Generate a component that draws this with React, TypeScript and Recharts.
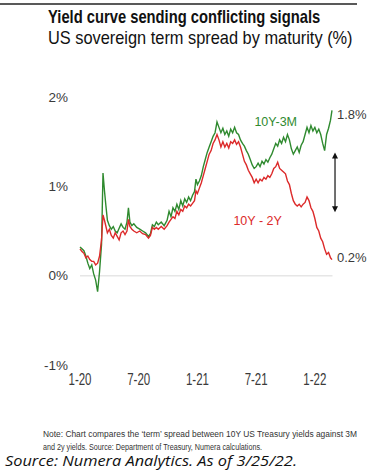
import React from 'react';
import { LineChart, Line, XAxis, YAxis, ReferenceLine, ReferenceDot } from 'recharts';

// months since Jan 2020
const months = [
  0, 0.2, 0.4, 0.6, 0.8, 1.0, 1.2, 1.4, 1.6, 1.8, 2.0, 2.2, 2.35, 2.5, 2.65, 2.8,
  3.0, 3.2, 3.4, 3.6, 3.8, 4.0, 4.2, 4.4, 4.6, 4.8, 4.95, 5.1, 5.3, 5.5, 5.8,
  6.1, 6.4, 6.7, 7.0, 7.2, 7.4, 7.6, 7.8, 8.0, 8.3, 8.6, 8.9, 9.1, 9.3, 9.5,
  9.7, 9.9, 10.1, 10.3, 10.5, 10.7, 10.9, 11.1, 11.3, 11.5, 11.7, 11.85, 12.0,
  12.2, 12.4, 12.6, 12.8, 13.0, 13.2, 13.4, 13.6, 13.8, 14.0, 14.2, 14.4, 14.6,
  14.8, 15.0, 15.2, 15.4, 15.6, 15.8, 16.0, 16.2, 16.4, 16.6, 16.8, 17.0, 17.2,
  17.4, 17.6, 17.8, 18.0, 18.2, 18.4, 18.6, 18.8, 19.0, 19.2, 19.4, 19.6, 19.8,
  20.0, 20.2, 20.4, 20.6, 20.8, 21.0, 21.2, 21.4, 21.6, 21.8, 22.0, 22.2, 22.4,
  22.6, 22.8, 23.0, 23.2, 23.4, 23.6, 23.8, 24.0, 24.2, 24.4, 24.6, 24.8, 25.0,
  25.2, 25.4, 25.6, 25.75,
];

const spread10y3m = [
  0.32, 0.30, 0.28, 0.22, 0.14, 0.08, 0.12, 0.02, -0.05, -0.18, 0.05, 0.35, 1.15, 0.95, 0.78, 0.62,
  0.56, 0.52, 0.55, 0.50, 0.48, 0.53, 0.58, 0.54, 0.52, 0.60, 0.76, 0.60, 0.56, 0.58, 0.54,
  0.52, 0.50, 0.48, 0.44, 0.47, 0.57, 0.55, 0.60, 0.57, 0.60, 0.56, 0.62, 0.72, 0.66, 0.76,
  0.72, 0.80, 0.74, 0.84, 0.78, 0.86, 0.82, 0.88, 0.84, 0.90, 0.94, 1.08, 1.02,
  1.06, 1.12, 1.22, 1.30, 1.38, 1.44, 1.50, 1.56, 1.60, 1.72, 1.66, 1.60, 1.65,
  1.58, 1.62, 1.56, 1.64, 1.60, 1.66, 1.60, 1.58, 1.52, 1.48, 1.45, 1.40, 1.36,
  1.30, 1.24, 1.20, 1.22, 1.26, 1.22, 1.28, 1.25, 1.30, 1.27, 1.32, 1.36, 1.42,
  1.48, 1.45, 1.52, 1.48, 1.55, 1.50, 1.58, 1.52, 1.42, 1.36, 1.40, 1.44, 1.38,
  1.46, 1.50, 1.58, 1.66, 1.60, 1.68, 1.62, 1.66, 1.60, 1.64, 1.58, 1.48, 1.40,
  1.58, 1.65, 1.74, 1.85,
];

const spread10y2y = [
  0.30, 0.27, 0.25, 0.20, 0.22, 0.18, 0.16, 0.16, 0.12, 0.14, 0.22, 0.40, 0.68, 0.62, 0.55, 0.48,
  0.52, 0.45, 0.42, 0.48, 0.44, 0.40, 0.48, 0.50, 0.46, 0.50, 0.63, 0.55, 0.52, 0.50, 0.48,
  0.50, 0.47, 0.46, 0.42, 0.45, 0.54, 0.52, 0.54, 0.52, 0.55, 0.52, 0.56, 0.60, 0.63, 0.66,
  0.64, 0.72, 0.68, 0.74, 0.72, 0.78, 0.76, 0.80, 0.78, 0.81, 0.84, 0.95, 0.92,
  0.98, 1.04, 1.12, 1.20, 1.28, 1.36, 1.40, 1.48, 1.52, 1.58, 1.52, 1.44, 1.50,
  1.44, 1.48, 1.43, 1.50, 1.48, 1.52, 1.47, 1.50, 1.44, 1.36, 1.28, 1.24, 1.18,
  1.14, 1.10, 1.04, 1.08, 1.04, 1.08, 1.06, 1.10, 1.08, 1.12, 1.10, 1.14, 1.20,
  1.22, 1.27, 1.20, 1.18, 1.16, 1.14, 1.06, 1.02, 0.92, 0.84, 0.80, 0.78, 0.80,
  0.77, 0.80, 0.82, 0.88, 0.84, 0.76, 0.72, 0.64, 0.54, 0.50, 0.42, 0.38, 0.30,
  0.24, 0.26, 0.20, 0.18,
];

const xTicks = [0, 6, 12, 18, 24];
const xTickLabels = ['1-20', '7-20', '1-21', '7-21', '1-22'];
const yTicks = [-1, 0, 1, 2];
const yTickLabels = ['-1%', '0%', '1%', '2%'];

const endLabel3m = '1.8%';
const endLabel2y = '0.2%';
const endValue3m = 1.8;
const endValue2y = 0.2;
const lastMonth = 25.75;
const seriesLabel3m = { t: 20.0, v: 1.72, text: '10Y-3M' };
const seriesLabel2y = { t: 18.15, v: 0.62, text: '10Y - 2Y' };
const arrowSpan = { t: 26.06, from: 1.38, to: 0.71 };
const zeroLineEnd = 25.8;

const data = months.map((t, i) => ({ t, g: spread10y3m[i], r: spread10y2y[i] }));

const FONT = '"Liberation Sans", Arial, sans-serif';
const GREEN = '#2f8a2f';
const RED = '#dc2a2a';
const TICK = '#3a3a3a';

const XTick = (props: any) => {
  const { x, y, payload } = props;
  const idx = xTicks.indexOf(payload.value);
  return (
    <text x={x} y={y} dy={12} textAnchor="middle" fontSize={16} fill={TICK} fontFamily={FONT}
      textLength={23} lengthAdjust="spacingAndGlyphs">
      {xTickLabels[idx]}
    </text>
  );
};

const YTick = (props: any) => {
  const { x, y, payload } = props;
  const idx = yTicks.indexOf(payload.value);
  return (
    <text x={x} y={y} dy={4.8} textAnchor="end" fontSize={13.5} fill={TICK} fontFamily={FONT}>
      {yTickLabels[idx]}
    </text>
  );
};

const ArrowShape = (p: any) => {
  const { x1, y1, x2, y2 } = p;
  const top = Math.min(y1, y2);
  const bot = Math.max(y1, y2);
  return (
    <g>
      <line x1={x1} y1={top + 4} x2={x2} y2={bot - 4} stroke="#111" strokeWidth={1.2} />
      <polygon points={`${x1},${top} ${x1 - 3},${top + 6} ${x1 + 3},${top + 6}`} fill="#111" />
      <polygon points={`${x1},${bot} ${x1 - 3},${bot - 6} ${x1 + 3},${bot - 6}`} fill="#111" />
    </g>
  );
};

const Squeezed = ({ x, y, sx, children, ...rest }: any) => (
  <text transform={`translate(${x},${y}) scale(${sx},1)`} x={0} y={0} {...rest}>
    {children}
  </text>
);

export default function App() {
  return (
    <div style={{ position: 'absolute', left: 0, top: 0, width: 367, height: 475, background: '#fff' }}>
      <svg width={367} height={475} style={{ position: 'absolute', left: 0, top: 0 }}>
        <line x1={0} y1={4} x2={357} y2={4} stroke="#222" strokeWidth={1.4} />
        <Squeezed x={48} y={23} sx={0.82} fontSize={18} fontWeight="bold" fill="#111" fontFamily={FONT}>
          Yield curve sending conflicting signals
        </Squeezed>
        <Squeezed x={48} y={44} sx={0.91} fontSize={18} fill="#111" fontFamily={FONT}>
          US sovereign term spread by maturity (%)
        </Squeezed>
        <text x={43} y={437} fontSize={8.5} fill="#333" fontFamily={FONT}
          textLength={314} lengthAdjust="spacingAndGlyphs">
          Note: Chart compares the ‘term’ spread between 10Y US Treasury yields against 3M
        </text>
        <text x={43} y={449.5} fontSize={8.5} fill="#333" fontFamily={FONT}
          textLength={219} lengthAdjust="spacingAndGlyphs">
          and 2y yields. Source: Department of Treasury, Numera calculations.
        </text>
        <text x={5} y={466} fontSize={14} fontStyle="italic" fill="#111" fontFamily={'"Open Sans", "Noto Sans", sans-serif'}
          textLength={292} lengthAdjust="spacingAndGlyphs">
          Source: Numera Analytics. As of 3/25/22.
        </text>
      </svg>
      <div style={{ position: 'absolute', left: 0, top: 0 }}>
        <LineChart width={367} height={400} data={data}
          margin={{ top: 97, right: 13, left: 30, bottom: 5 }}>
          <XAxis dataKey="t" type="number" domain={[0, 28]} ticks={xTicks} interval={0}
            axisLine={false} tickLine={false} tickSize={0} tickMargin={8} height={30}
            tick={<XTick />} />
          <YAxis type="number" domain={[-1, 2]} ticks={yTicks} interval={0}
            axisLine={false} tickLine={false} tickSize={0} tickMargin={12} width={50}
            tick={<YTick />} />
          <ReferenceLine segment={[{ x: 0, y: 0 }, { x: zeroLineEnd, y: 0 }]} stroke="#e6e6e6" strokeWidth={1.5} />
          <Line dataKey="g" stroke={GREEN} strokeWidth={1.4} dot={false} isAnimationActive={false} type="linear" />
          <Line dataKey="r" stroke={RED} strokeWidth={1.4} dot={false} isAnimationActive={false} type="linear" />
          <ReferenceLine segment={[{ x: arrowSpan.t, y: arrowSpan.from }, { x: arrowSpan.t, y: arrowSpan.to }]}
            shape={<ArrowShape />} />
          <ReferenceDot x={lastMonth} y={endValue3m} r={0} fill="none" stroke="none"
            label={{ value: endLabel3m, position: 'right', offset: 5, fill: TICK, fontSize: 13, fontFamily: FONT }} />
          <ReferenceDot x={lastMonth} y={endValue2y} r={0} fill="none" stroke="none"
            label={{ value: endLabel2y, position: 'right', offset: 5, fill: TICK, fontSize: 13, fontFamily: FONT }} />
          <ReferenceDot x={seriesLabel3m.t} y={seriesLabel3m.v} r={0} fill="none" stroke="none"
            label={{ value: seriesLabel3m.text, position: 'center', fill: GREEN, fontSize: 12.5, fontFamily: FONT }} />
          <ReferenceDot x={seriesLabel2y.t} y={seriesLabel2y.v} r={0} fill="none" stroke="none"
            label={{ value: seriesLabel2y.text, position: 'center', fill: RED, fontSize: 12.5, fontFamily: FONT }} />
        </LineChart>
      </div>
    </div>
  );
}
